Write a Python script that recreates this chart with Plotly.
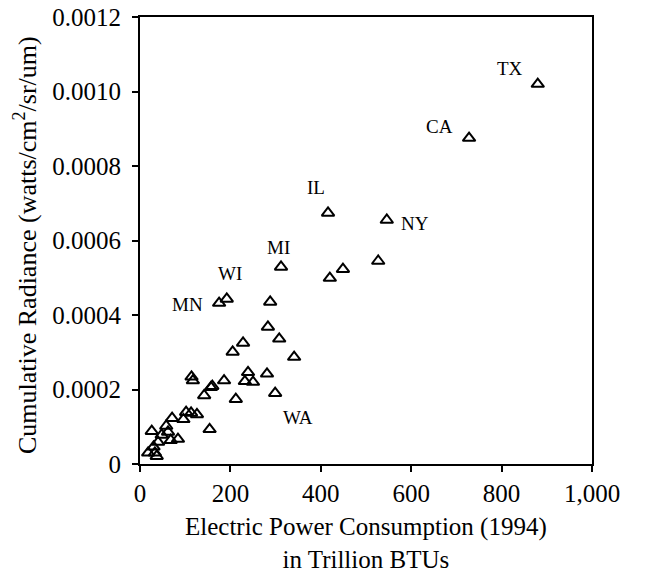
import plotly.graph_objects as go

# Labeled states
label_names = ["TX", "CA", "NY", "IL", "MI", "WI", "MN", "WA"]
label_x = [880, 728, 546, 416, 312, 192, 175, 299]
label_y = [0.00102, 0.000875, 0.000655, 0.000674, 0.000529, 0.000443, 0.000432, 0.00019]

# Other (unlabeled) states
other_x = [527, 449, 420, 288, 283, 308, 341, 228, 205, 239, 281, 232, 250, 186,
           114, 117, 160, 157, 142, 212, 154, 102, 113, 126, 96, 71, 58, 62, 26,
           84, 68, 48, 40, 30, 18, 33, 37]
other_y = [0.000545, 0.000523, 0.000499, 0.000435, 0.000368, 0.000336, 0.000287,
           0.000325, 0.000301, 0.000246, 0.000242, 0.000222, 0.00022, 0.000224,
           0.000234, 0.000224, 0.000209, 0.000206, 0.000184, 0.000174, 0.000093,
           0.000139, 0.000137, 0.000133, 0.00012, 0.000123, 0.000102, 0.000086,
           0.000088, 0.000067, 0.000064, 0.000078, 0.000059, 0.000046, 0.00003,
           0.00003, 0.000021]

x_ticks = [0, 200, 400, 600, 800, 1000]
x_ticktext = ["0", "200", "400", "600", "800", "1,000"]
y_ticks = [0, 0.0002, 0.0004, 0.0006, 0.0008, 0.0010, 0.0012]
y_ticktext = ["0", "0.0002", "0.0004", "0.0006", "0.0008", "0.0010", "0.0012"]

x_title = "Electric Power Consumption (1994)<br>in Trillion BTUs"
y_title = "Cumulative Radiance (watts/cm<sup>2</sup>/sr/um)"

# label offsets in pixels (style)
label_dx = [-28, -30, 28, -12, -3, 3, -32, 23]
label_dy = [16, 12, -3, 25, 19, 25, -1, -24]

FONT = "Liberation Serif"

fig = go.Figure()
fig.add_trace(go.Scatter(
    x=label_x + other_x, y=label_y + other_y, mode="markers",
    marker=dict(symbol="triangle-up-open", size=11, color="black",
                line=dict(width=2, color="black")),
    showlegend=False, hoverinfo="x+y"))

for name, x, y, dx, dy in zip(label_names, label_x, label_y, label_dx, label_dy):
    fig.add_annotation(x=x, y=y, text=name, showarrow=False, xshift=dx, yshift=dy,
                       font=dict(family=FONT, size=19, color="black"))

# axis titles
fig.add_annotation(xref="paper", yref="paper", x=0.5, y=-0.176, text=x_title,
                   showarrow=False, xanchor="center", yanchor="middle",
                   font=dict(family=FONT, size=25, color="black"))
fig.add_annotation(xref="paper", yref="paper", x=-0.252, y=0.49, text=y_title,
                   showarrow=False, textangle=-90, xanchor="center", yanchor="middle",
                   font=dict(family=FONT, size=26, color="black"))

axis_common = dict(showline=True, linecolor="black", linewidth=2, mirror=True,
                   ticks="outside", ticklen=6, tickwidth=1.5, tickcolor="black",
                   showgrid=False, zeroline=False, automargin=False,
                   tickfont=dict(family=FONT, size=25, color="black"))

fig.update_layout(
    width=646, height=575,
    margin=dict(l=140, r=54, t=17, b=111, autoexpand=False),
    paper_bgcolor="white", plot_bgcolor="white",
    font=dict(family=FONT, color="black"),
    xaxis=dict(range=[0, 1000], tickvals=x_ticks, ticktext=x_ticktext,
               **axis_common),
    yaxis=dict(range=[0, 0.0012], tickvals=y_ticks, ticktext=y_ticktext,
               ticklabelstandoff=6, **axis_common),
)

fig.write_html("out.html")
